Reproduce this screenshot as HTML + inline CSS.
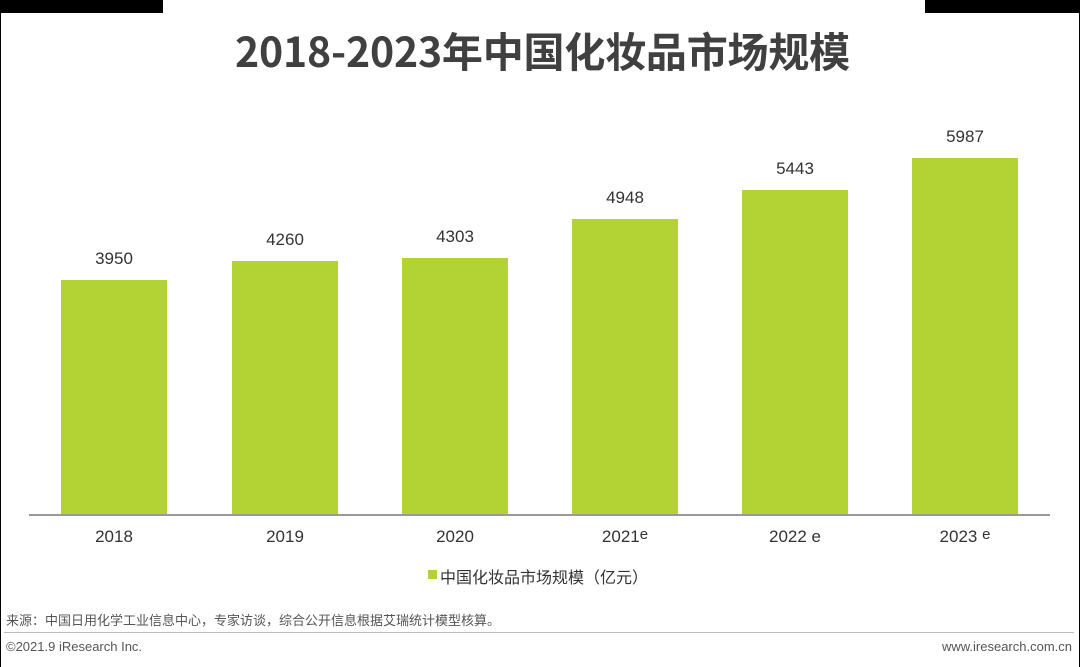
<!DOCTYPE html>
<html><head><meta charset="utf-8"><style>
body{margin:0;width:1080px;height:667px;background:#fff;position:relative;overflow:hidden;font-family:"Liberation Sans","Noto Sans CJK SC",sans-serif;}
.a{position:absolute}
.bar{position:absolute;background:#b3d334;width:106px}
.v{position:absolute;width:106px;text-align:center;font-size:17px;color:#333}
.x{position:absolute;width:106px;text-align:center;font-size:17px;color:#333;top:527px;line-height:20px}
.e{font-size:15px;position:relative;top:-3px}
</style></head><body>
<div class="a" style="left:0;top:0;width:163px;height:13px;background:#000"></div>
<div class="a" style="left:925px;top:0;width:155px;height:13px;background:#000"></div>
<div class="a" style="left:0;top:13px;width:1px;height:654px;background:#000"></div>
<div class="a" style="right:0;top:13px;width:1px;height:654px;background:#000"></div>
<div class="a" style="left:0;top:19px;width:1085px;text-align:center;font-size:41px;font-weight:bold;color:#404040;font-family:'Noto Sans CJK SC',sans-serif;letter-spacing:-0.2px">2018-2023年中国化妆品市场规模</div>
<div class="bar" style="left:61px;top:280px;height:235px"></div>
<div class="bar" style="left:232px;top:261px;height:254px"></div>
<div class="bar" style="left:402px;top:258px;height:257px"></div>
<div class="bar" style="left:572px;top:219px;height:296px"></div>
<div class="bar" style="left:742px;top:190px;height:325px"></div>
<div class="bar" style="left:912px;top:158px;height:357px"></div>
<div class="v" style="left:61px;top:249px">3950</div>
<div class="v" style="left:232px;top:230px">4260</div>
<div class="v" style="left:402px;top:227px">4303</div>
<div class="v" style="left:572px;top:188px">4948</div>
<div class="v" style="left:742px;top:159px">5443</div>
<div class="v" style="left:912px;top:127px">5987</div>
<div class="a" style="left:29px;top:514px;width:1021px;height:2px;background:#999"></div>
<div class="x" style="left:61px">2018</div>
<div class="x" style="left:232px">2019</div>
<div class="x" style="left:402px">2020</div>
<div class="x" style="left:572px">2021<span class="e">e</span></div>
<div class="x" style="left:742px">2022 e</div>
<div class="x" style="left:912px">2023 <span class="e">e</span></div>
<div class="a" style="left:428px;top:570px;width:9px;height:9px;background:#b3d334"></div>
<div class="a" style="left:440px;top:564px;font-size:16px;color:#333">中国化妆品市场规模（亿元）</div>
<div class="a" style="left:6px;top:610px;font-size:13px;color:#555">来源：中国日用化学工业信息中心，专家访谈，综合公开信息根据艾瑞统计模型核算。</div>
<div class="a" style="left:4px;top:632px;width:1070px;height:1px;background:#bbb"></div>
<div class="a" style="left:6px;top:639px;font-size:13px;color:#555">©2021.9 iResearch Inc.</div>
<div class="a" style="right:8px;top:639px;font-size:13px;color:#555">www.iresearch.com.cn</div>
</body></html>
